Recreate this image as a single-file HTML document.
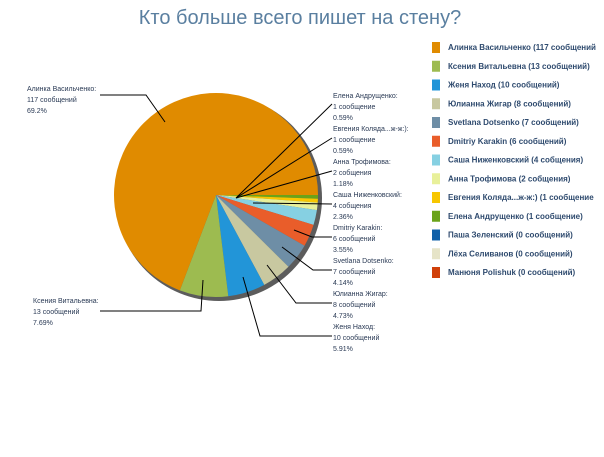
<!DOCTYPE html>
<html><head><meta charset="utf-8"><style>
body{margin:0;background:#fff;width:604px;height:452px;overflow:hidden;font-family:"Liberation Sans","DejaVu Sans",sans-serif}
</style></head><body>
<svg id="s" width="604" height="452" xmlns="http://www.w3.org/2000/svg" font-family="Liberation Sans, DejaVu Sans, sans-serif">
<text x="300" y="24" text-anchor="middle" font-size="20" fill="#5a7fa0">Кто больше всего пишет на стену?</text>
<g id="pie"></g>
<g stroke="#000" stroke-width="1" fill="none">
<polyline points="100,95 146,95 165,122"/>
<polyline points="100,311 201,311 203,280"/>
<polyline points="236,198 332,104"/>
<polyline points="236,198 332,138"/>
<polyline points="236,198 332,171"/>
<polyline points="253,203 332,204"/>
<polyline points="294,230 312,237 332,237"/>
<polyline points="282,247 313,270 332,270"/>
<polyline points="267,265 296,303 332,303"/>
<polyline points="243,277 260,336 332,336"/>
</g>
<g font-size="7" fill="#2a3a55" id="labels"></g>
<g id="legend" font-size="8" font-weight="bold" fill="#2e4a6e"></g>
</svg>
<script>
var cx=216,cy=195,r=102;
var data=[["#f0d000",0],["#6aa31a",1],["#f7c600",1],["#e8f09a",2],["#86d0e2",4],["#e95d2a",6],["#6e8ea6",7],["#c8c8a0",8],["#2295d8",10],["#9dbb50",13],["#e08b00",117]];
var tot=169,a=0,h='<ellipse cx="'+(cx+3)+'" cy="'+(cy+3)+'" rx="'+(r+1)+'" ry="'+(r+1)+'" fill="#333" opacity="0.8"/>';
for(var i=1;i<data.length;i++){var v=data[i][1];var a2=a+v/tot*2*Math.PI;
var x1=cx+r*Math.cos(a),y1=cy+r*Math.sin(a),x2=cx+r*Math.cos(a2),y2=cy+r*Math.sin(a2);
h+='<path d="M'+cx+','+cy+'L'+x1+','+y1+'A'+r+','+r+' 0 '+((a2-a)>Math.PI?1:0)+' 1 '+x2+','+y2+'Z" fill="'+data[i][0]+'"/>';a=a2;}
document.getElementById('pie').innerHTML=h;
var L=[[27,88,"Алинка Васильченко:","117 сообщений","69.2%"],[33,300,"Ксения Витальевна:","13 сообщений","7.69%"],
[333,95,"Елена Андрущенко:","1 сообщение","0.59%"],[333,128,"Евгения Коляда...ж-ж:):","1 сообщение","0.59%"],
[333,161,"Анна Трофимова:","2 собщения","1.18%"],[333,194,"Саша Ниженковский:","4 собщения","2.36%"],
[333,227,"Dmitriy Karakin:","6 сообщений","3.55%"],[333,260,"Svetlana Dotsenko:","7 сообщений","4.14%"],
[333,293,"Юлианна Жигар:","8 сообщений","4.73%"],[333,326,"Женя Наход:","10 сообщений","5.91%"]];
h='';L.forEach(function(l){for(var k=0;k<3;k++)h+='<text x="'+l[0]+'" y="'+(l[1]+3+k*11)+'">'+l[2+k]+'</text>';});
document.getElementById('labels').innerHTML=h;
var G=[["#e08b00","Алинка Васильченко (117 сообщений"],["#9dbb50","Ксения Витальевна (13 сообщений)"],["#2295d8","Женя Наход (10 сообщений)"],["#c8c8a0","Юлианна Жигар (8 сообщений)"],["#6e8ea6","Svetlana Dotsenko (7 сообщений)"],["#e95d2a","Dmitriy Karakin (6 сообщений)"],["#86d0e2","Саша Ниженковский (4 собщения)"],["#e8f09a","Анна Трофимова (2 собщения)"],["#f7c600","Евгения Коляда...ж-ж:) (1 сообщение"],["#6aa31a","Елена Андрущенко (1 сообщение)"],["#1060a8","Паша Зеленский (0 сообщений)"],["#e6e4c8","Лёха Селиванов (0 сообщений)"],["#d0400a","Манюня Polishuk (0 сообщений)"]];
h='';G.forEach(function(g,i){var y=47+i*18.75;h+='<rect x="432" y="'+(y-5)+'" width="8" height="11" fill="'+g[0]+'"/><text x="448" y="'+(y+3)+'">'+g[1]+'</text>';});
document.getElementById('legend').innerHTML=h;
</script>
</body></html>
